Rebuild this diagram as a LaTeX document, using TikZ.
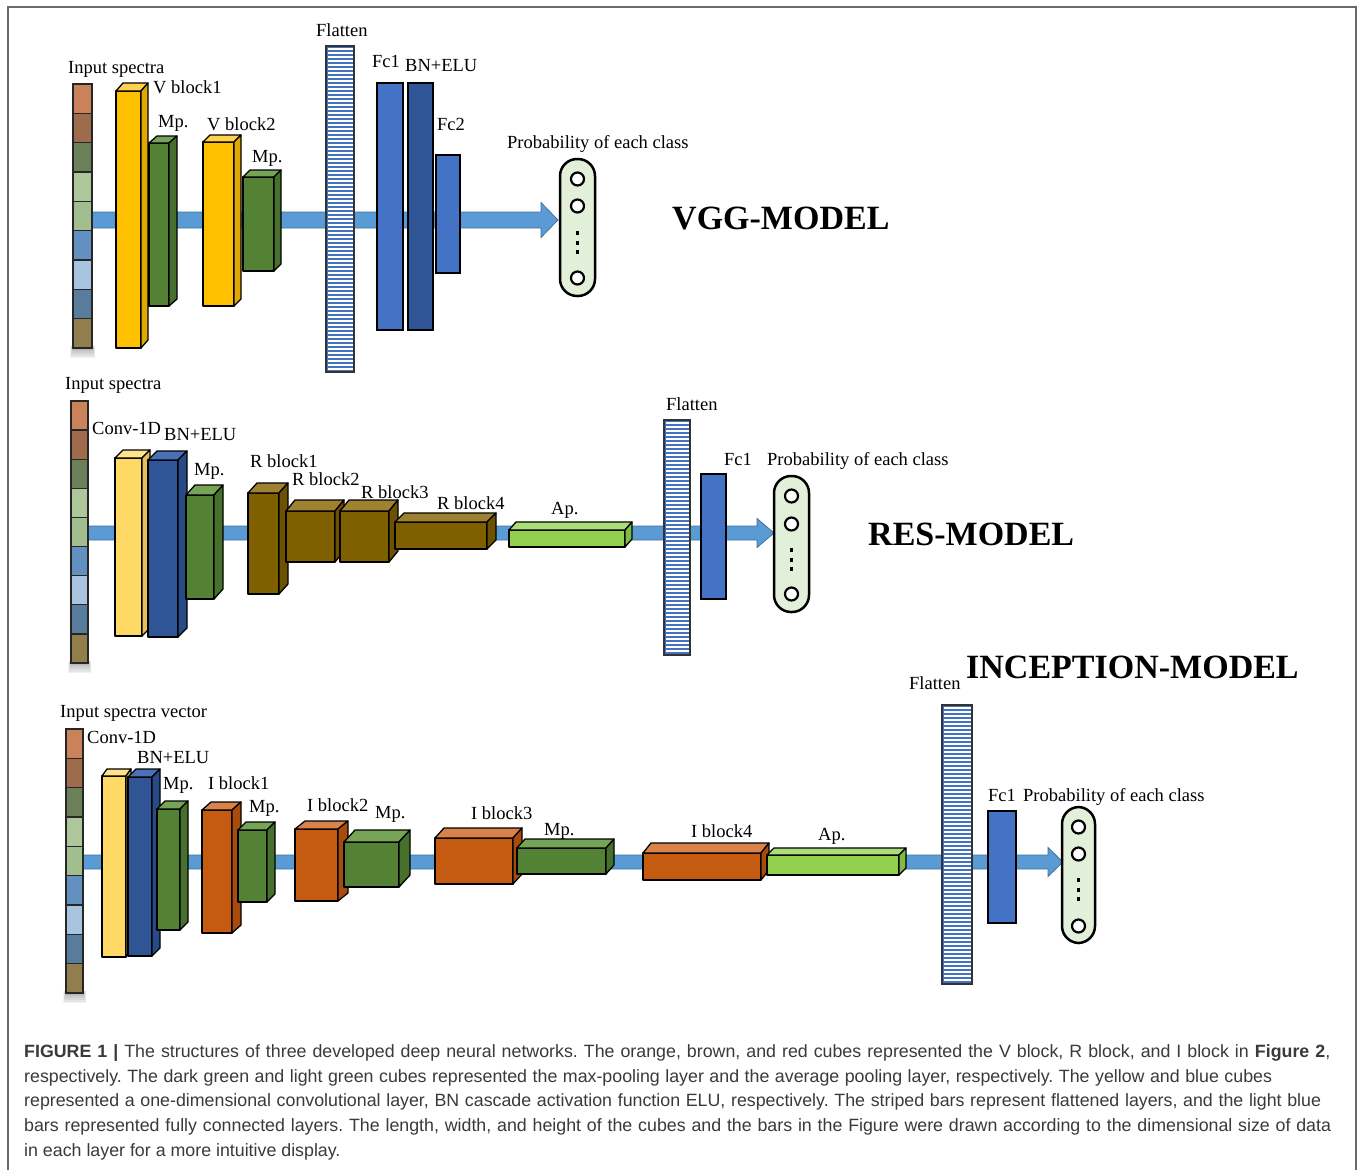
\documentclass[tikz,border=0pt]{standalone}
\usepackage{fontspec}
\setmainfont{Liberation Serif}
\newfontfamily\capfont{Liberation Sans}
\usetikzlibrary{calc}
\pgfdeclarelayer{background}
\pgfsetlayers{background,main}
% cube colour schemes: F front, T top, S side
\definecolor{VF}{HTML}{FFC000}\definecolor{VT}{HTML}{FFD24D}\definecolor{VS}{HTML}{E0A800}
\definecolor{GF}{HTML}{548235}\definecolor{GT}{HTML}{76A456}\definecolor{GS}{HTML}{47702C}
\definecolor{YF}{HTML}{FFD966}\definecolor{YT}{HTML}{FFE28C}\definecolor{YS}{HTML}{E6C05A}
\definecolor{BF}{HTML}{2F5597}\definecolor{BT}{HTML}{4A70B5}\definecolor{BS}{HTML}{294B85}
\definecolor{RF}{HTML}{7F6000}\definecolor{RT}{HTML}{9E8232}\definecolor{RS}{HTML}{6B5100}
\definecolor{IF}{HTML}{C55A11}\definecolor{IT}{HTML}{D9834A}\definecolor{IS}{HTML}{A84C0E}
\definecolor{AF}{HTML}{92D050}\definecolor{AT}{HTML}{ABDD78}\definecolor{AS}{HTML}{7FBA42}
\definecolor{fcblue}{HTML}{4472C4}
\definecolor{bndark}{HTML}{2F5597}
\definecolor{flatblue}{HTML}{4472C4}
\definecolor{barblue}{HTML}{5B9BD5}
\definecolor{bardark}{HTML}{41719C}
\definecolor{pillgreen}{HTML}{E2F0D9}
\definecolor{capgray}{HTML}{3A3A3A}
\definecolor{framegray}{HTML}{6A6A6A}
\definecolor{sA}{HTML}{C9825A}\definecolor{sB}{HTML}{9E6B4C}\definecolor{sC}{HTML}{6B7F58}
\definecolor{sD}{HTML}{ADC79B}\definecolor{sE}{HTML}{A3BE8E}\definecolor{sF}{HTML}{6290C0}
\definecolor{sG}{HTML}{A9C4DE}\definecolor{sH}{HTML}{587D9C}\definecolor{sI}{HTML}{917E4C}

\newcommand\boxnode[6]{%
  \node[#2, minimum width={(#5-#3)*1pt}, minimum height={(#6-#4)*1pt}] (#1) at ({(#3+#5)/2},{(#4+#6)/2}) {};}
\newcommand\mycube[8]{%
  \boxnode{#1}{cubeface, fill=#8F}{#2}{#3}{#4}{#5}
  \filldraw[cubeline, fill=#8T] (#1.north west) -- ++(#6,-#7) -- ($(#1.north east)+(#6,-#7)$) -- (#1.north east) -- cycle;
  \filldraw[cubeline, fill=#8S] (#1.north east) -- ++(#6,-#7) -- ($(#1.south east)+(#6,-#7)$) -- (#1.south east) -- cycle;}
\newcommand\incol[5]{%
  \boxnode{#1}{colframe}{#2}{#3}{#4}{#5}
  \begin{pgfonlayer}{background}
  \foreach \i in {1,...,6} \fill[black, opacity=0.05] ($(#1.south west)+(-\i*0.5,-2)$) rectangle ($(#1.south east)+(\i*0.5,\i*1.7)$);
  \end{pgfonlayer}
  \pgfmathsetmacro\segh{(#5-#3)/9}
  \foreach \c [count=\i from 0] in {sA,sB,sC,sD,sE,sF,sG,sH,sI}
    \filldraw[draw=black!85, line width=1.3pt, fill=\c] ($(#1.north west)+(0,{\i*\segh})$) rectangle ($(#1.north east)+(0,{(\i+1)*\segh})$);}
\newcommand\flatbar[5]{%
  \boxnode{#1}{flat}{#2}{#3}{#4}{#5}
  \pgfmathsetmacro\fh{#5-#3-2}
  \foreach \k in {3,7,...,\fh} \draw[white, line width=1.7pt] ($(#1.north west)+(1.5,\k)$) -- ($(#1.north east)+(-1.5,\k)$);
  \draw[black!80, line width=1.3pt] (#1.north west) rectangle (#1.south east);}
% start coordinate, tip coordinate, half bar, head length, half head
\newcommand\flowarrow[5]{%
  \filldraw[bararrow] ($(#1)+(0,-#3)$) -- ($(#2)+(-#4,-#3)$) -- ($(#2)+(-#4,-#5)$) -- (#2) -- ($(#2)+(-#4,#5)$) -- ($(#2)+(-#4,#3)$) -- ($(#1)+(0,#3)$) -- cycle;}
\newcommand\jline[2]{\makebox[#1pt][s]{#2}}

\begin{document}
\frenchspacing
\begin{tikzpicture}[x=1pt,y=-1pt,
  lbl/.style={font=\fontsize{18.5}{22}\selectfont, inner sep=0pt, anchor=base west},
  mtitle/.style={font=\fontsize{34}{40}\selectfont\bfseries, inner sep=0pt, anchor=base west},
  capline/.style={font=\capfont\fontsize{17.8}{24.8}\selectfont\frenchspacing, text=capgray, inner sep=0pt, anchor=base west},
  cubeface/.style={draw=black, line width=1.3pt, inner sep=0pt, outer sep=0pt, line join=round},
  cubeline/.style={draw=black, line width=1.3pt, line join=round},
  colframe/.style={inner sep=0pt, outer sep=0pt},
  fcbar/.style={draw=black, line width=1.3pt, inner sep=0pt, outer sep=0pt, fill=fcblue},
  bnbar/.style={fcbar, fill=bndark},
  flat/.style={draw=black!80, line width=1.3pt, fill=flatblue, inner sep=0pt, outer sep=0pt},
  pill/.style={draw=black, line width=2.5pt, fill=pillgreen, rounded corners=17pt, inner sep=0pt, outer sep=0pt},
  pcirc/.style={circle, draw=black, line width=2.2pt, fill=white, minimum size=13pt, inner sep=0pt},
  dotsq/.style={rectangle, fill=black, minimum size=3.3pt, inner sep=0pt},
  bararrow/.style={fill=barblue, draw=bardark, line width=0.8pt, line join=miter}
]
\useasboundingbox (0,0) rectangle (1360,1170);
\begin{pgfonlayer}{background}
\fill[white] (0,0) rectangle (1360,1170);
\end{pgfonlayer}
\draw[framegray, line width=1.6pt] (8,1170) -- (8,7) -- (1356,7) -- (1356,1170);

%================ VGG =================
\incol{vin}{73}{84}{92}{348}
\mycube{vb1}{116}{91}{141}{348}{7}{8}{V}
\mycube{vmp1}{149}{143}{169}{306}{8}{7}{G}
\mycube{vb2}{203}{142}{234}{306}{7}{7}{V}
\mycube{vmp2}{243}{177}{274}{271}{7}{7}{G}
\flatbar{vfl}{326}{46}{354}{372}
\boxnode{vfc1}{fcbar}{377}{83}{403}{330}
\boxnode{vbn}{bnbar}{408}{83}{433}{330}
\boxnode{vfc2}{fcbar}{436}{155}{460}{273}
\boxnode{vout}{pill}{560}{159}{595}{296}
\node[pcirc] (vo1) at (577.5,179) {};
\node[pcirc] (vo2) at (577.5,206) {};
\node[pcirc] (vo3) at (577.5,278) {};
\node[dotsq] (vd1) at (577.5,233) {};
\node[dotsq] (vd2) at (577.5,243) {};
\node[dotsq] (vd3) at (577.5,252) {};
\begin{pgfonlayer}{background}
\coordinate (vS) at ($(vin.east)+(0,4)$);
\coordinate (vT) at ($(vout.west)+(-2,-7.5)$);
\flowarrow{vS}{vT}{8}{17}{17.5}
\end{pgfonlayer}
\node[lbl] (lv1) at (68,73) {Input spectra};
\node[lbl] (lv2) at (153,93) {V block1};
\node[lbl] (lv3) at (158,127) {Mp.};
\node[lbl] (lv4) at (207,130) {V block2};
\node[lbl] (lv5) at (252,162) {Mp.};
\node[lbl] (lv6) at (316,36) {Flatten};
\node[lbl] (lv7) at (372,67) {Fc1};
\node[lbl] (lv8) at (405,71) {BN+ELU};
\node[lbl] (lv9) at (437,130) {Fc2};
\node[lbl] (lv10) at (507,148) {Probability of each class};
\node[mtitle] (tv) at (672,229) {VGG-MODEL};

%================ RES =================
\incol{rin}{71}{401}{88}{663}
\mycube{rconv}{115}{458}{142}{636}{8}{8}{Y}
\mycube{rbn}{148}{460}{178}{637}{9}{9}{B}
\mycube{rmp}{186}{495}{214}{599}{9}{10}{G}
\mycube{rb1}{248}{493}{279}{594}{9}{10}{R}
\mycube{rb2}{286}{511}{335}{562}{9}{11}{R}
\mycube{rb3}{340}{511}{389}{562}{9}{11}{R}
\mycube{rb4}{395}{522}{487}{549}{9}{9}{R}
\mycube{rap}{509}{530}{625}{547}{7}{8}{A}
\flatbar{rfl}{664}{420}{690}{655}
\boxnode{rfc1}{fcbar}{701}{474}{726}{599}
\boxnode{rout}{pill}{774}{476}{809}{612}
\node[pcirc] (ro1) at (791.5,496) {};
\node[pcirc] (ro2) at (791.5,524) {};
\node[pcirc] (ro3) at (791.5,594) {};
\node[dotsq] (rd1) at (791.5,550) {};
\node[dotsq] (rd2) at (791.5,560) {};
\node[dotsq] (rd3) at (791.5,569) {};
\begin{pgfonlayer}{background}
\coordinate (rS) at ($(rin.east)+(0,1)$);
\coordinate (rT) at ($(rout.west)+(0,-11)$);
\flowarrow{rS}{rT}{7}{17}{14.5}
\end{pgfonlayer}
\node[lbl] (lr1) at (65,389) {Input spectra};
\node[lbl] (lr2) at (92,434) {Conv-1D};
\node[lbl] (lr3) at (164,440) {BN+ELU};
\node[lbl] (lr4) at (194,475) {Mp.};
\node[lbl] (lr5) at (250,467) {R block1};
\node[lbl] (lr6) at (292,485) {R block2};
\node[lbl] (lr7) at (361,498) {R block3};
\node[lbl] (lr8) at (437,509) {R block4};
\node[lbl] (lr9) at (551,514) {Ap.};
\node[lbl] (lr10) at (666,410) {Flatten};
\node[lbl] (lr11) at (724,465) {Fc1};
\node[lbl] (lr12) at (767,465) {Probability of each class};
\node[mtitle] (tr) at (868,545) {RES-MODEL};

%================ INCEPTION =================
\incol{iin}{66}{729}{83}{993}
\mycube{iconv}{102}{776}{126}{957}{5}{7}{Y}
\mycube{ibn}{128}{777}{152}{956}{8}{8}{B}
\mycube{imp1}{157}{809}{180}{930}{8}{8}{G}
\mycube{ib1}{202}{810}{232}{933}{9}{8}{I}
\mycube{imp2}{238}{830}{267}{902}{8}{8}{G}
\mycube{ib2}{295}{829}{338}{901}{10}{8}{I}
\mycube{imp3}{344}{842}{399}{887}{11}{12}{G}
\mycube{ib3}{435}{838}{513}{884}{9}{10}{I}
\mycube{imp4}{517}{848}{606}{874}{8}{9}{G}
\mycube{ib4}{643}{853}{761}{880}{8}{10}{I}
\mycube{iap}{767}{855}{899}{875}{7}{7}{A}
\flatbar{ifl}{942}{705}{972}{984}
\boxnode{ifc1}{fcbar}{988}{811}{1016}{923}
\boxnode{iout}{pill}{1062}{807}{1095}{943}
\node[pcirc] (io1) at (1078.5,827) {};
\node[pcirc] (io2) at (1078.5,854) {};
\node[pcirc] (io3) at (1078.5,926) {};
\node[dotsq] (id1) at (1078.5,880) {};
\node[dotsq] (id2) at (1078.5,890) {};
\node[dotsq] (id3) at (1078.5,899) {};
\begin{pgfonlayer}{background}
\coordinate (iS) at ($(iin.east)+(0,1)$);
\coordinate (iT) at ($(iout.west)+(1,-13)$);
\flowarrow{iS}{iT}{7}{15}{14.5}
\end{pgfonlayer}
\node[lbl] (li1) at (60,717) {Input spectra vector};
\node[lbl] (li2) at (87,743) {Conv-1D};
\node[lbl] (li3) at (137,763) {BN+ELU};
\node[lbl] (li4) at (163,789) {Mp.};
\node[lbl] (li5) at (208,789) {I block1};
\node[lbl] (li6) at (249,812) {Mp.};
\node[lbl] (li7) at (307,811) {I block2};
\node[lbl] (li8) at (375,818) {Mp.};
\node[lbl] (li9) at (471,819) {I block3};
\node[lbl] (li10) at (544,835) {Mp.};
\node[lbl] (li11) at (691,837) {I block4};
\node[lbl] (li12) at (818,840) {Ap.};
\node[lbl] (li13) at (909,689) {Flatten};
\node[lbl] (li14) at (988,801) {Fc1};
\node[lbl] (li15) at (1023,801) {Probability of each class};
\node[mtitle] (ti) at (966,678) {INCEPTION-MODEL};

%================ caption =================
\node[capline] (c1) at (24,1057) {\jline{1306}{\textbf{FIGURE 1 |} The structures of three developed deep neural networks. The orange, brown, and red cubes represented the V block, R block, and I block in \textbf{Figure 2},}};
\node[capline] (c2) at (24,1082) {\jline{1248}{respectively. The dark green and light green cubes represented the max-pooling layer and the average pooling layer, respectively. The yellow and blue cubes}};
\node[capline] (c3) at (24,1106.5) {\jline{1297}{represented a one-dimensional convolutional layer, BN cascade activation function ELU, respectively. The striped bars represent flattened layers, and the light blue}};
\node[capline] (c4) at (24,1131) {\jline{1307}{bars represented fully connected layers. The length, width, and height of the cubes and the bars in the Figure were drawn according to the dimensional size of data}};
\node[capline] (c5) at (24,1156) {in each layer for a more intuitive display.};
\end{tikzpicture}
\end{document}
